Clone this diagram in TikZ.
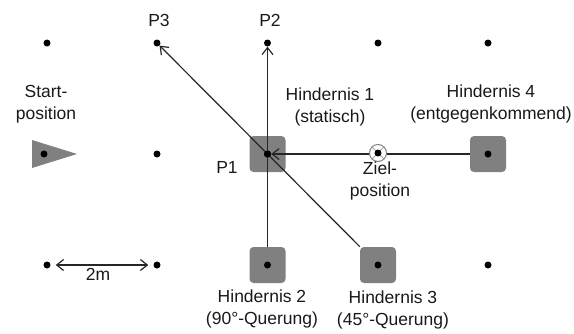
\documentclass[tikz,border=0pt]{standalone}
\usepackage{fontspec}
\setmainfont{Liberation Sans}
\usetikzlibrary{arrows.meta}
\begin{document}
\begin{tikzpicture}[x=1pt,y=-1pt,
  gdot/.style={circle,fill=black,inner sep=0pt,minimum size=7pt},
  obst/.style={rectangle,rounded corners=4pt,fill=gray!100!white,draw=none,minimum size=36pt,inner sep=0pt},
  lbl/.style={align=center,font=\fontsize{17.5}{21.5}\selectfont,text=black!90,inner sep=0pt},
  conn/.style={line width=1.2pt,black!85},
  tip/.style={-{Straight Barb[length=7pt,width=11pt,line width=1.2pt]}},
]
\useasboundingbox (0,0) rectangle (574,333);
% obstacle squares
\node[obst] (h1) at (267.5,154) {};
\node[obst] (h2) at (267.5,265) {};
\node[obst] (h3) at (378,265) {};
\node[obst] (h4) at (488,154) {};
% start triangle
\fill[gray] (32,140) -- (32,168) -- (77,154) -- cycle;
% grid dots
\node[gdot] (a1) at (47,43) {};
\node[gdot] (p3) at (157,43) {};
\node[gdot] (p2) at (267.5,43) {};
\node[gdot] (a4) at (378,43) {};
\node[gdot] (a5) at (488,43) {};
\node[gdot] (s) at (44,154) {};
\node[gdot] (b2) at (157,154) {};
\node[gdot] (p1) at (267.5,154) {};
\node[gdot] (c1) at (47,265) {};
\node[gdot] (c2) at (157,265) {};
\node[gdot] (d2) at (267.5,265) {};
\node[gdot] (d3) at (378,265) {};
\node[gdot] (c5) at (488,265) {};
\node[gdot] (d4) at (488,154) {};
% connectors
\draw[conn,tip] (h2) -- (p2);
\draw[conn,tip] (h3) -- (p3);
\draw[conn,tip] (h4) -- (p1);
\draw[conn,{Straight Barb[length=7pt,width=11pt,line width=1.2pt]}-{Straight Barb[length=7pt,width=11pt,line width=1.2pt]},shorten <=5pt,shorten >=5pt] (c1) -- (c2);
\node[gdot] at (p1) {};
% Ziel
\node[circle,draw=gray,line width=1pt,fill=white,minimum size=17pt,inner sep=0pt] (ziel) at (378,153) {};
\draw[gray!70,line width=0.8pt] (ziel.45) -- (ziel.225) (ziel.135) -- (ziel.315);
\node[gdot] at (ziel) {};
% labels
\node[lbl] (tp3) at (159,20) {P3};
\node[lbl] (tp2) at (270,20) {P2};
\node[lbl] (tst) at (46,104) {Start-\\position};
\node[lbl] (th1) at (330,107) {Hindernis 1\\(statisch)};
\node[lbl] (th4) at (491,104) {Hindernis 4\\(entgegenkommend)};
\node[lbl] (tp1) at (227,167) {P1};
\node[lbl] (tz) at (380,181) {Ziel-\\position};
\node[lbl] (t2m) at (98,274) {2m};
\node[lbl] (th2) at (262,309) {Hindernis 2\\(90°-Querung)};
\node[lbl] (th3) at (393,310) {Hindernis 3\\(45°-Querung)};
\end{tikzpicture}
\end{document}
